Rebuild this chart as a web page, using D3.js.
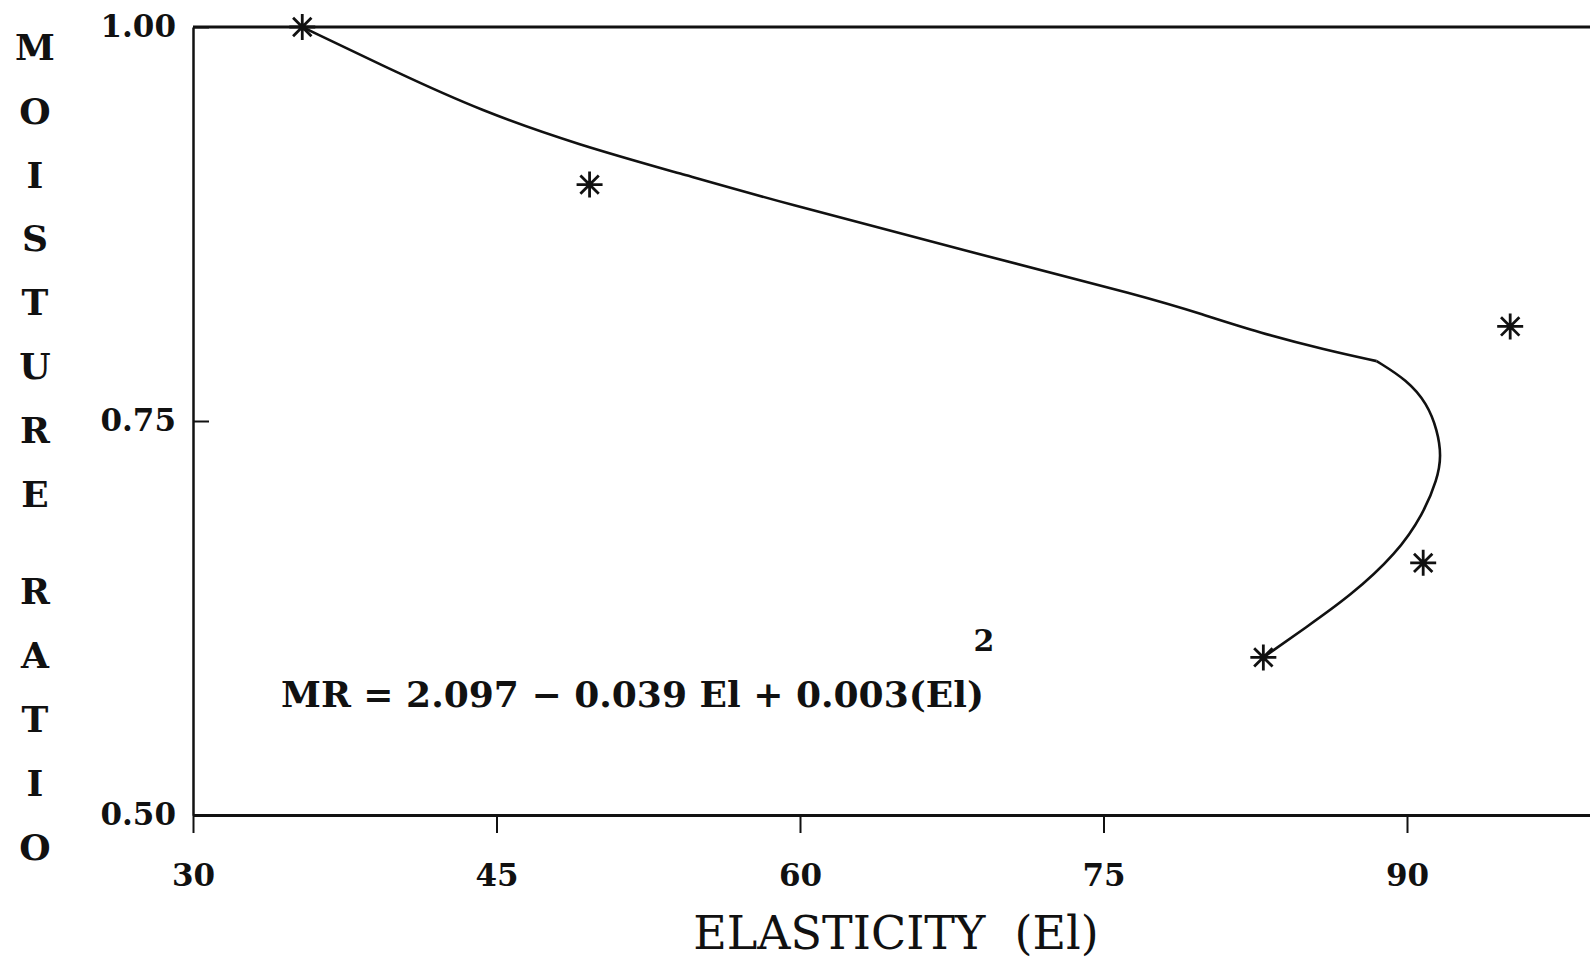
<!DOCTYPE html>
<html>
<head>
<meta charset="utf-8">
<script src="https://cdn.jsdelivr.net/npm/d3@7/dist/d3.min.js"></script>
<style>
  html, body { margin: 0; padding: 0; background: #fff; }
  svg { display: block; }
  text { fill: #111; }
</style>
</head>
<body>
<svg id="chart" width="1590" height="962"></svg>
<script>
// Observed samples: elasticity vs. moisture ratio
const elasticity    = [35.4, 49.6, 95.1, 90.8, 82.9];
const moistureRatio = [1.00, 0.90, 0.81, 0.66, 0.60];

// Fitted curve, traced in two pieces that meet at the bend
const fitUpperE  = [35.4, 40.1, 44.2, 49.1, 54.1, 59.0, 68.2, 77.3, 79.8, 82.7, 86.0, 88.5];
const fitUpperMR = [1.000, 0.971, 0.947, 0.925, 0.907, 0.889, 0.858, 0.828, 0.818, 0.806, 0.795, 0.788];
const fitLowerE  = [88.5, 90.0, 91.0, 91.5, 91.7, 91.5, 90.8, 89.5, 87.2, 85.0, 82.9];
const fitLowerMR = [0.788, 0.776, 0.761, 0.744, 0.728, 0.713, 0.691, 0.666, 0.639, 0.619, 0.600];

// Axis ticks and labels
const xTicks = [30, 45, 60, 75, 90];
const yTicks = [0.50, 0.75, 1.00];
const xTitle = "ELASTICITY  (El)";
const yTitle = "MOISTURE RATIO";
const equation = "MR = 2.097 \u2212 0.039 El + 0.003(El)";
const equationPower = "2";

const W = 1590, H = 962;
const svg = d3.select("#chart");

const x = d3.scaleLinear().domain([30, 90]).range([193, 1407]);
const y = d3.scaleLinear().domain([0.5, 1.0]).range([815, 27]);
const xEdge = x.invert(W + 5);

const serif = "'DejaVu Serif', 'Liberation Serif', serif";

// Bottom axis, running off the right edge
const xAxisScale = x.copy().domain([30, xEdge]).range([x(30), x(xEdge)]);
const gx = svg.append("g")
  .attr("transform", `translate(0,${y(0.5)})`)
  .call(d3.axisBottom(xAxisScale)
    .tickValues(xTicks)
    .tickFormat(d3.format("d"))
    .tickSize(18)
    .tickSizeOuter(0)
    .tickPadding(31));
gx.select(".domain").attr("stroke", "#111").attr("stroke-width", 3);
gx.selectAll(".tick line").attr("stroke", "#111").attr("stroke-width", 2);
gx.selectAll(".tick text")
  .attr("font-family", serif).attr("font-weight", "bold")
  .attr("font-size", 31).attr("fill", "#111");

// Left axis with inward ticks
const gy = svg.append("g")
  .attr("transform", `translate(${x(30)},0)`)
  .call(d3.axisLeft(y)
    .tickValues(yTicks)
    .tickFormat(d3.format(".2f"))
    .tickSize(-16)
    .tickSizeOuter(0)
    .tickPadding(17));
gy.select(".domain").attr("stroke", "#111").attr("stroke-width", 2.5);
gy.selectAll(".tick line").attr("stroke", "#111").attr("stroke-width", 2);
gy.selectAll(".tick text")
  .attr("font-family", serif).attr("font-weight", "bold")
  .attr("font-size", 31).attr("fill", "#111");

// Top frame line
svg.append("line")
  .attr("x1", x(30)).attr("x2", x(xEdge))
  .attr("y1", y(1.0)).attr("y2", y(1.0))
  .attr("stroke", "#111").attr("stroke-width", 3);

// Fitted curve: smooth pieces, sharp corner where they join
const line = d3.line()
  .x(d => x(d[0])).y(d => y(d[1]))
  .curve(d3.curveBasis);
[[fitUpperE, fitUpperMR], [fitLowerE, fitLowerMR]].forEach(([es, ms]) => {
  svg.append("path")
    .datum(es.map((e, i) => [e, ms[i]]))
    .attr("d", line)
    .attr("fill", "none")
    .attr("stroke", "#111")
    .attr("stroke-width", 2.6)
    .attr("stroke-linejoin", "round");
});

// Asterisk markers
const r = 13;
const asterisk = d3.path();
for (let k = 0; k < 4; k++) {
  const a = k * Math.PI / 4;
  asterisk.moveTo(-r * Math.cos(a), -r * Math.sin(a));
  asterisk.lineTo(r * Math.cos(a), r * Math.sin(a));
}
svg.append("g").selectAll("path")
  .data(elasticity.map((e, i) => [e, moistureRatio[i]]))
  .join("path")
  .attr("transform", d => `translate(${x(d[0])},${y(d[1])})`)
  .attr("d", asterisk.toString())
  .attr("stroke", "#111")
  .attr("stroke-width", 2.8)
  .attr("fill", "none");

// Regression equation
svg.append("text")
  .attr("x", 281).attr("y", 707)
  .attr("font-family", serif).attr("font-weight", "bold").attr("font-size", 36)
  .attr("textLength", 703).attr("lengthAdjust", "spacingAndGlyphs")
  .text(equation);
svg.append("text")
  .attr("x", 984).attr("y", 651)
  .attr("text-anchor", "middle")
  .attr("font-family", serif).attr("font-weight", "bold").attr("font-size", 30)
  .text(equationPower);

// X-axis title
svg.append("text")
  .attr("x", 896).attr("y", 949)
  .attr("text-anchor", "middle")
  .attr("font-family", serif).attr("font-size", 46)
  .style("white-space", "pre")
  .text(xTitle);

// Y-axis title, one letter per row
const step = 63.8, wordGap = 34;
let row = 0, extra = 0;
const letters = [];
for (const ch of yTitle) {
  if (ch === " ") { extra += wordGap; continue; }
  letters.push({ ch, yPos: 60 + row * step + extra });
  row++;
}
svg.append("g").selectAll("text")
  .data(letters)
  .join("text")
  .attr("x", 35).attr("y", d => d.yPos)
  .attr("text-anchor", "middle")
  .attr("font-family", serif).attr("font-weight", "bold").attr("font-size", 36)
  .text(d => d.ch);
</script>
</body>
</html>
